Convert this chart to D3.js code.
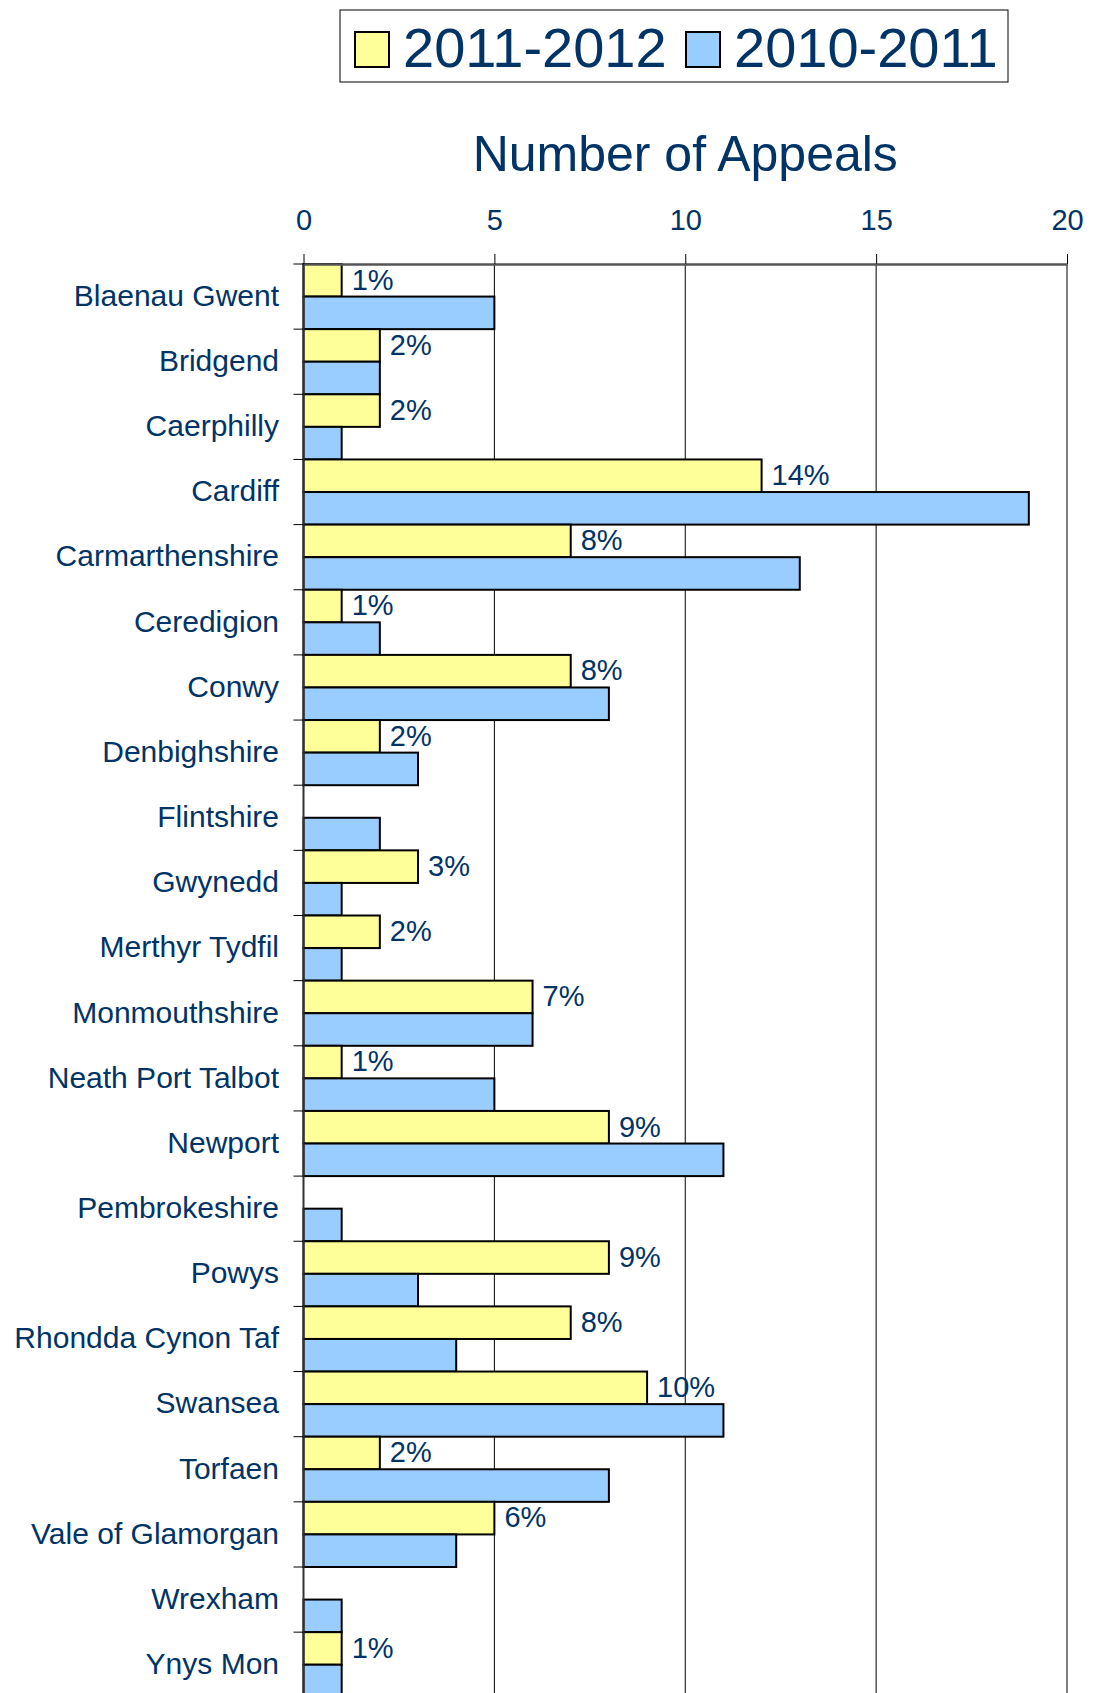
<!DOCTYPE html>
<html>
<head>
<meta charset="utf-8">
<script src="https://cdn.jsdelivr.net/npm/d3@7"></script>
<style>
  body { margin: 0; background: #fff; overflow: hidden; }
  text { font-family: "Liberation Sans", Arial, sans-serif; fill: #003366; }
</style>
</head>
<body>
<div id="viz"></div>
<script>
(function() {

    var width = 1094;
    var height = 1693;

    // data
    var categories = ["Blaenau Gwent", "Bridgend", "Caerphilly", "Cardiff", "Carmarthenshire",
        "Ceredigion", "Conwy", "Denbighshire", "Flintshire", "Gwynedd", "Merthyr Tydfil",
        "Monmouthshire", "Neath Port Talbot", "Newport", "Pembrokeshire", "Powys",
        "Rhondda Cynon Taf", "Swansea", "Torfaen", "Vale of Glamorgan", "Wrexham", "Ynys Mon"];
    var series = ["2011-2012", "2010-2011"];
    var appeals1112 = [1, 2, 2, 12, 7, 1, 7, 2, 0, 3, 2, 6, 1, 8, 0, 8, 7, 9, 2, 5, 0, 1];
    var appeals1011 = [5, 2, 1, 19, 13, 2, 8, 3, 2, 1, 1, 6, 5, 11, 1, 3, 4, 11, 8, 4, 1, 1];
    var pctLabels = ["1%", "2%", "2%", "14%", "8%", "1%", "8%", "2%", "", "3%", "2%", "7%",
        "1%", "9%", "", "9%", "8%", "10%", "2%", "6%", "", "1%"];
    var xTicks = [0, 5, 10, 15, 20];
    var colors = ["#FFFF99", "#99CCFF"];

    var rows = categories.map(function(c, i) {
        return { name: c, values: [appeals1112[i], appeals1011[i]], label: pctLabels[i] };
    });

    var svg = d3.select("#viz")
        .append("svg")
        .attr("width", width)
        .attr("height", height);

    // scales
    var top = 264;
    var step = 65.15;
    var x = d3.scaleLinear().domain([0, 20]).range([303.5, 1067]);
    var y = d3.scaleBand().domain(categories).range([top, top + step * categories.length]).padding(0);
    var ySub = d3.scaleBand().domain(series).range([0, y.bandwidth()]).padding(0);
    var bottom = top + step * categories.length;

    // vertical gridlines
    svg.append("g")
        .selectAll("line")
        .data(xTicks.slice(1))
        .enter().append("line")
        .attr("x1", function(d) { return x(d); })
        .attr("x2", function(d) { return x(d); })
        .attr("y1", top)
        .attr("y2", bottom)
        .attr("stroke", "#000")
        .attr("stroke-width", 1);

    // bars
    var groups = svg.append("g")
        .selectAll("g")
        .data(rows)
        .enter().append("g")
        .attr("transform", function(d) { return "translate(0," + y(d.name) + ")"; });

    groups.selectAll("rect")
        .data(function(d) {
            return d.values.map(function(v, i) { return { key: series[i], value: v, i: i }; });
        })
        .enter().append("rect")
        .filter(function(d) { return d.value > 0; })
        .attr("x", x(0))
        .attr("y", function(d) { return ySub(d.key); })
        .attr("width", function(d) { return x(d.value) - x(0); })
        .attr("height", ySub.bandwidth())
        .attr("fill", function(d) { return colors[d.i]; })
        .attr("stroke", "#000")
        .attr("stroke-width", 2);

    // percentage labels next to the 2011-2012 bars
    groups.append("text")
        .attr("x", function(d) { return x(d.values[0]) + 10; })
        .attr("y", ySub(series[0]) + ySub.bandwidth() / 2)
        .attr("dy", "0.32em")
        .attr("font-size", "29px")
        .text(function(d) { return d.label; });

    // top axis
    var xAxis = d3.axisTop(x)
        .tickValues(xTicks)
        .tickSizeInner(10)
        .tickSizeOuter(0)
        .tickPadding(24);

    var gx = svg.append("g")
        .attr("transform", "translate(0," + top + ")")
        .call(xAxis);
    gx.select(".domain").attr("stroke", "#555").attr("stroke-width", 2.5);
    gx.selectAll(".tick line").attr("stroke", "#000");
    gx.selectAll(".tick text")
        .attr("font-size", "29px")
        .attr("font-family", "Liberation Sans, Arial, sans-serif")
        .attr("fill", "#003366");

    // left axis line and ticks at category boundaries
    svg.append("line")
        .attr("x1", x(0)).attr("x2", x(0))
        .attr("y1", top).attr("y2", bottom)
        .attr("stroke", "#333")
        .attr("stroke-width", 2);

    svg.append("g")
        .selectAll("line")
        .data(categories)
        .enter().append("line")
        .attr("x1", x(0) - 10)
        .attr("x2", x(0))
        .attr("y1", function(d) { return y(d); })
        .attr("y2", function(d) { return y(d); })
        .attr("stroke", "#000");

    // category labels
    svg.append("g")
        .selectAll("text")
        .data(categories)
        .enter().append("text")
        .attr("x", 279)
        .attr("y", function(d) { return y(d) + y.bandwidth() / 2; })
        .attr("dy", "0.31em")
        .attr("text-anchor", "end")
        .attr("font-size", "30px")
        .text(function(d) { return d; });

    // title
    svg.append("text")
        .attr("x", (x(0) + x(20)) / 2)
        .attr("y", 171)
        .attr("text-anchor", "middle")
        .attr("font-size", "50px")
        .text("Number of Appeals");

    // legend
    var legend = svg.append("g");
    legend.append("rect")
        .attr("x", 340).attr("y", 10)
        .attr("width", 668).attr("height", 72)
        .attr("fill", "#fff")
        .attr("stroke", "#000")
        .attr("stroke-width", 1);

    var legendX = [355, 686];
    series.forEach(function(s, i) {
        legend.append("rect")
            .attr("x", legendX[i]).attr("y", 32)
            .attr("width", 34).attr("height", 35)
            .attr("fill", colors[i])
            .attr("stroke", "#000")
            .attr("stroke-width", 2);
        legend.append("text")
            .attr("x", legendX[i] + 48)
            .attr("y", 67)
            .attr("font-size", "56px")
            .text(s);
    });

})();
</script>
</body>
</html>
